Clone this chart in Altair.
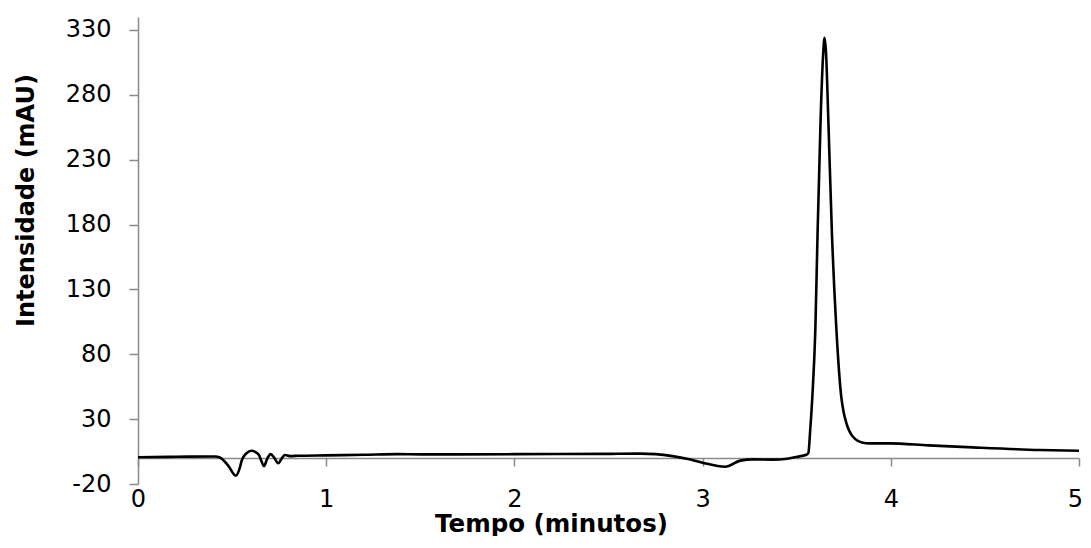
import altair as alt
import pandas as pd

# Chromatogram
tempo = [0.00, 0.20, 0.409, 0.435, 0.48, 0.520, 0.540, 0.551, 0.575, 0.604,
         0.625, 0.643, 0.655, 0.669, 0.688, 0.705, 0.725, 0.745, 0.765, 0.781,
         0.807, 0.85, 1.00, 1.20, 1.38, 1.50, 2.00, 2.50, 2.67, 2.75,
         2.84, 2.93, 3.00, 3.12, 3.20, 3.27, 3.37, 3.45, 3.52, 3.548,
         3.562, 3.572, 3.583, 3.599, 3.611, 3.627, 3.640, 3.648, 3.656, 3.668,
         3.687, 3.711, 3.737, 3.750, 3.764, 3.799, 3.852, 3.887, 3.994, 4.20,
         4.436, 4.79, 5.00]
intensidade = [0.6, 1.0, 1.2, 0.5, -6.0, -13.6, -8.0, -2.0, 3.5, 5.6,
               4.5, 2.3, -2.0, -6.2, 0.0, 3.0, 0.0, -4.0, 0.0, 2.3,
               1.5, 1.8, 2.1, 2.5, 3.0, 2.8, 3.0, 3.2, 3.4, 3.0,
               1.5, -1.0, -3.6, -6.7, -2.0, -1.0, -1.2, -0.5, 1.5, 2.3,
               4.0, 22.0, 47.0, 99.0, 174.0, 261.0, 310.0, 324.0, 312.0, 261.0,
               174.0, 99.0, 47.0, 35.0, 27.0, 16.4, 11.8, 11.3, 11.3, 9.8,
               8.2, 6.2, 5.6]

y_ticks = [-20, 30, 80, 130, 180, 230, 280, 330]
x_ticks = [0, 1, 2, 3, 4, 5]

df = pd.DataFrame({"tempo": tempo, "intensidade": intensidade})

FONT = "DejaVu Sans"
AXIS_COLOR = "#8a8a8a"

chart = alt.Chart(df).mark_line(
    color="black", strokeWidth=2.6, interpolate="monotone"
).encode(
    x=alt.X(
        "tempo:Q",
        scale=alt.Scale(domain=[0, 5], nice=False, zero=False),
        axis=alt.Axis(
            values=x_ticks, labelExpr="'' + datum.value", title="Tempo (minutos)",
            offset=-26, tickSize=8, labelPadding=21,
            labelOffset={"condition": {"test": "datum.value == 5", "value": -4}, "value": 0},
            titleX=413, titleY=73, titleAlign="center", titleBaseline="alphabetic",
            titleFontSize=24.5,
        ),
    ),
    y=alt.Y(
        "intensidade:Q",
        scale=alt.Scale(domain=[-20, 340], nice=False, zero=False),
        axis=alt.Axis(
            values=y_ticks, labelExpr="'' + datum.value", title="Intensidade (mAU)",
            tickSize=9, labelPadding=18,
            titleX=-112, titleY=183, titleAngle=270, titleAlign="center",
            titleBaseline="middle", titleFontSize=24,
        ),
    ),
).properties(
    width=941, height=467,
    padding={"left": 130, "top": 9, "right": 4, "bottom": 52},
    autosize=alt.AutoSizeParams(type="none"),
).configure_view(
    stroke=None
).configure_axis(
    grid=False,
    domainColor=AXIS_COLOR, domainWidth=1.5,
    tickColor=AXIS_COLOR, tickWidth=1.5,
    labelFont=FONT, labelFontSize=24, labelColor="black",
    titleFont=FONT, titleFontWeight="bold", titleColor="black",
    labelFlush=False, labelOverlap=False,
)

chart.save("out.html", embed_options={"renderer": "svg", "actions": False})
